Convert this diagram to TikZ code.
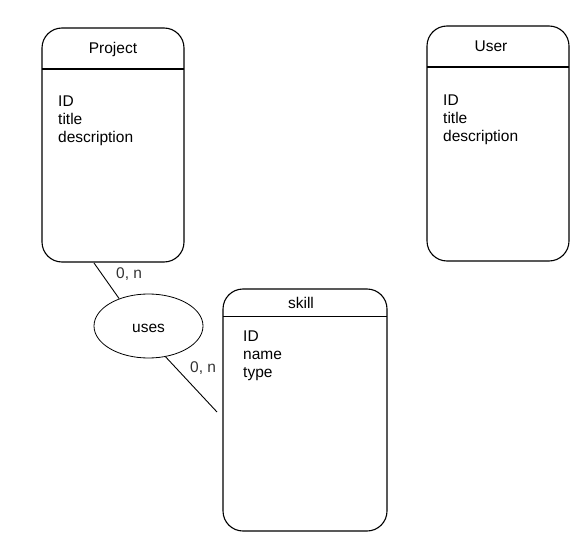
\documentclass[tikz,border=0pt]{standalone}
\usepackage{fontspec}
\setmainfont{Liberation Sans}
\usetikzlibrary{shapes.geometric}
\begin{document}
\begin{tikzpicture}[x=1pt,y=-1pt,
  every node/.style={font=\fontsize{15.5}{18}\selectfont, inner sep=0pt},
  entity/.style={draw=black, line width=1.1pt, rounded corners=20pt, minimum width=#1},
  hdr/.style={line width=1.1pt},
  attrs/.style={anchor=north west, align=left},
  ttl/.style={anchor=base},
  card/.style={anchor=base west, text=black!80},
  rel/.style={draw=black, line width=0.8pt, ellipse, minimum width=109pt, minimum height=64pt},
  conn/.style={line width=0.9pt}]
\useasboundingbox (0,0) rectangle (583,548);
% Project
\node[entity=142pt, minimum height=234pt] (project) at (113,145) {};
\draw[hdr] (42,69) -- (184,69);
\node[ttl] (projectT) at (113,53.5) {Project};
\node[attrs] (projectA) at (58,96) {ID\\title\\description};
% User
\node[entity=142pt, minimum height=235pt] (user) at (498,143.5) {};
\draw[hdr] (427,67) -- (569,67);
\node[ttl] (userT) at (491,52) {User};
\node[attrs] (userA) at (443,95) {ID\\title\\description};
% skill
\node[entity=164pt, minimum height=242pt] (skill) at (305,410) {};
\draw[hdr] (223,316.5) -- (387,316.5);
\node[ttl] (skillT) at (301,308) {skill};
\node[attrs] (skillA) at (243,331) {ID\\name\\type};
% relationship
\node[rel] (uses) at (148.5,326) {};
\node[ttl] (usesT) at (148.5,332) {uses};
\coordinate (p1) at (94,263);
\coordinate (s1) at (217,412);
\draw[conn] (p1) -- (uses.137);
\draw[conn] (uses.-61) -- (s1);
\node[card] (c1) at (116,278) {0, n};
\node[card] (c2) at (190,372) {0, n};
\end{tikzpicture}
\end{document}
